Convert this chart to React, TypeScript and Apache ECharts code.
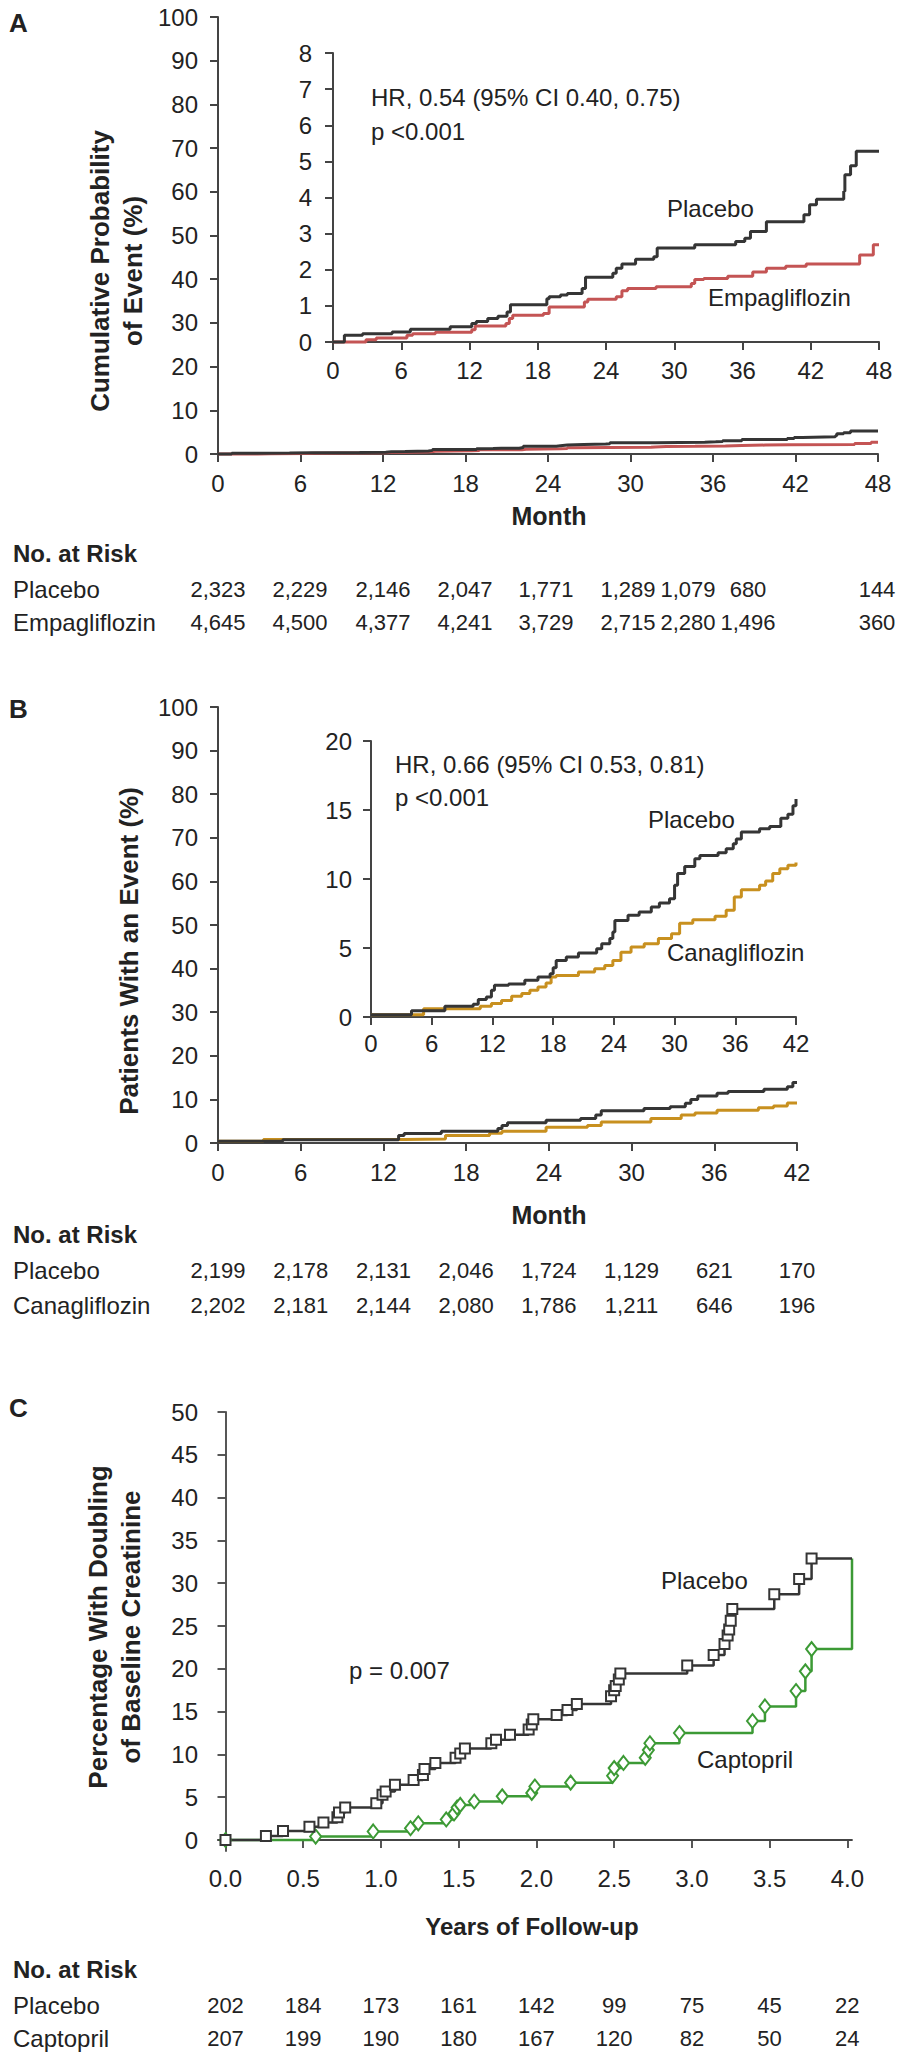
import React, { useEffect, useRef } from "react";
import * as echarts from "echarts";

// ---------------- DATA ----------------
const monthTicksB = [0, 6, 12, 18, 24, 30, 36, 42];
const yearTicksC = [0, 0.5, 1, 1.5, 2, 2.5, 3, 3.5, 4];
const pctTicksC = [0, 5, 10, 15, 20, 25, 30, 35, 40, 45, 50];

// Panel A (EMPA-REG) – cumulative probability (%), [month, pct]
const placeboA: [number, number][] = [
  [0, 0], [1.0, 0.19], [2.6, 0.23], [5.2, 0.28], [6.8, 0.35], [10.3, 0.42], [12.2, 0.51], [12.6, 0.57],
  [13.6, 0.65], [14.5, 0.71], [15.3, 0.83], [15.6, 1.03], [18.8, 1.2], [19.0, 1.25], [20.0, 1.3],
  [20.6, 1.34], [21.9, 1.48], [22.2, 1.79], [24.6, 1.9], [24.9, 2.04], [25.4, 2.16], [26.6, 2.29],
  [28.2, 2.36], [28.5, 2.6], [31.8, 2.69], [35.4, 2.78], [36.2, 2.87], [36.7, 3.06], [38.1, 3.33],
  [41.4, 3.52], [41.9, 3.8], [42.5, 3.95], [44.9, 4.17], [45.0, 4.63], [45.5, 4.88], [46.0, 5.28], [48, 5.28],
];
const empagliflozinA: [number, number][] = [
  [0, 0], [2.9, 0.06], [3.8, 0.11], [6.5, 0.19], [7.0, 0.23], [9.0, 0.27], [12.2, 0.34], [12.5, 0.44],
  [15.2, 0.51], [15.5, 0.65], [15.8, 0.74], [18.5, 0.79], [19.0, 0.97], [22.1, 1.11], [22.4, 1.18],
  [24.9, 1.25], [25.4, 1.42], [25.9, 1.48], [28.4, 1.53], [31.5, 1.62], [31.8, 1.73], [32.6, 1.76],
  [34.7, 1.82], [36.9, 1.94], [38.1, 2.04], [39.8, 2.1], [41.6, 2.16], [46.3, 2.41], [47.5, 2.69], [48, 2.69],
];

// Panel B (CREDENCE) – main plot
const placeboBMain: [number, number][] = [
  [0, 0.4], [4.7, 0.75], [13.1, 1.7], [13.5, 2.2], [16.2, 2.7], [20.3, 3.3], [20.6, 4.0], [21.0, 4.65],
  [23.8, 5.2], [26.3, 5.6], [27.4, 6.4], [27.8, 7.4], [30.9, 7.9], [32.8, 8.3], [33.9, 9.1], [34.3, 10],
  [34.8, 10.8], [36.2, 11.4], [37, 11.8], [39.6, 12.3], [41.3, 12.9], [41.7, 13.9], [42, 13.9],
];
const canagliflozinBMain: [number, number][] = [
  [0, 0.4], [3.3, 0.8], [13.5, 0.9], [16.5, 1.7], [19.7, 2.25], [20.6, 2.7], [23.8, 3.6], [26.8, 4.0],
  [27.8, 4.8], [31.4, 5.6], [33.6, 6.4], [34.6, 6.9], [36.2, 7.5], [39.2, 8.1], [40.3, 8.5], [41.3, 9.2], [42, 9.2],
];
// Panel B – inset
const placeboBInset: [number, number][] = [
  [0, 0.17], [4, 0.45], [7.3, 0.77], [10.1, 0.92], [10.6, 1.26], [11.4, 1.45], [11.9, 1.93], [12.2, 2.3],
  [13.6, 2.4], [15.2, 2.66], [16.5, 2.9], [17.7, 3.14], [18, 3.57], [18.3, 4.1], [19.3, 4.35], [20.5, 4.64],
  [22.3, 4.95], [22.8, 5.31], [23.6, 5.68], [23.9, 6.16], [24.1, 7.0], [25.4, 7.37], [26.5, 7.6], [27.7, 7.97],
  [28.5, 8.26], [29.5, 8.57], [30, 9.54], [30.3, 10.4], [31, 10.9], [32, 11.47], [32.5, 11.7], [34.3, 11.9],
  [35.1, 12.2], [35.8, 12.56], [36.1, 12.9], [36.6, 13.4], [38.4, 13.65], [39.4, 13.8], [40.5, 14.4],
  [41.2, 14.7], [41.7, 15.3], [42, 15.8],
];
const canagliflozinBInset: [number, number][] = [
  [0, 0.17], [5.2, 0.6], [10.8, 0.77], [11.9, 0.97], [12.9, 1.2], [13.9, 1.5], [14.9, 1.7], [15.7, 1.93],
  [16.5, 2.17], [17.3, 2.46], [17.8, 2.9], [18.3, 3.0], [20.5, 3.26], [22.1, 3.5], [23.1, 3.74], [23.9, 4.1],
  [24.7, 4.7], [25.7, 5.07], [27, 5.31], [28.4, 5.68], [29.7, 6.04], [30.5, 6.8], [31.8, 7.05], [34, 7.3],
  [35.1, 7.73], [35.9, 8.7], [36.6, 9.23], [38.4, 9.54], [39, 9.86], [39.7, 10.4], [40.4, 10.75], [41.2, 11.0], [42, 11.2],
];

// Panel C (Captopril trial) – [years, pct]
const placeboC: [number, number][] = [
  [0, 0], [0.26, 0.47], [0.37, 1.05], [0.54, 1.56], [0.63, 2.03], [0.72, 2.66], [0.73, 3.2], [0.77, 3.8],
  [0.97, 4.3], [1.01, 5.3], [1.03, 5.66], [1.09, 6.45], [1.21, 7.0], [1.27, 7.6], [1.28, 8.3], [1.35, 9.0],
  [1.48, 9.6], [1.51, 10.1], [1.54, 10.7], [1.71, 11.3], [1.74, 11.7], [1.83, 12.3], [1.95, 12.9],
  [1.97, 13.5], [1.98, 14.1], [2.13, 14.6], [2.2, 15.2], [2.26, 15.9], [2.48, 16.8], [2.5, 17.5],
  [2.51, 18.0], [2.53, 18.75], [2.54, 19.45], [2.97, 20.4], [3.14, 21.6], [3.21, 22.9], [3.23, 23.9],
  [3.24, 24.6], [3.25, 25.6], [3.26, 27.0], [3.53, 28.7], [3.69, 30.5], [3.77, 32.9], [4.03, 32.9],
];
const captoprilC: [number, number][] = [
  [0, 0], [0.58, 0.4], [0.95, 1.0], [1.19, 1.37], [1.24, 1.95], [1.42, 2.4], [1.47, 3.1], [1.49, 3.8],
  [1.51, 4.1], [1.6, 4.5], [1.78, 5.1], [1.97, 5.5], [1.99, 6.25], [2.22, 6.7], [2.49, 7.5], [2.5, 8.4],
  [2.56, 9.0], [2.7, 9.6], [2.72, 10.5], [2.73, 11.3], [2.92, 12.5], [3.39, 13.9], [3.47, 15.6],
  [3.67, 17.4], [3.73, 19.7], [3.77, 22.3], [4.03, 22.3], [4.03, 32.9],
];

// Numbers at risk
const riskPlaceboA = ["2,323", "2,229", "2,146", "2,047", "1,771", "1,289", "1,079", "680", "144"];
const riskEmpagliflozinA = ["4,645", "4,500", "4,377", "4,241", "3,729", "2,715", "2,280", "1,496", "360"];
const riskPlaceboB = ["2,199", "2,178", "2,131", "2,046", "1,724", "1,129", "621", "170"];
const riskCanagliflozinB = ["2,202", "2,181", "2,144", "2,080", "1,786", "1,211", "646", "196"];
const riskPlaceboC = ["202", "184", "173", "161", "142", "99", "75", "45", "22"];
const riskCaptoprilC = ["207", "199", "190", "180", "167", "120", "82", "50", "24"];

// ---------------- LAYOUT / STYLE ----------------
const FONT = "'Liberation Sans', Arial, Helvetica, sans-serif";
const TXT = "#222";
const AX = "#444";
const C_PLACEBO = "#353535";
const C_EMPA = "#c45454";
const C_CANA = "#c8901f";
const C_CAPTO = "#3c9a35";

const GRIDS = [
  { left: 218, top: 17, width: 660, height: 437 },
  { left: 333, top: 53, width: 546, height: 289 },
  { left: 218, top: 707, width: 579, height: 436 },
  { left: 371, top: 741, width: 425, height: 276 },
  { left: 218, top: 1412, width: 634, height: 439 },
];
const C_XMIN = -0.04824;
const C_XMAX = 4.03;
const C_YMIN = -1.285;
// column x positions of panel A's risk table (as typeset in the source figure)
const riskColsA = [218, 300, 383, 465, 546, 628, 688, 748, 877];

function axisCommon(labelMargin: number, fmt?: (v: number) => string) {
  return {
    axisLine: { show: true, lineStyle: { color: AX, width: 2 } },
    axisTick: { show: true, length: 8, lineStyle: { color: AX, width: 2 } },
    axisLabel: {
      color: TXT, fontSize: 24, fontFamily: FONT, margin: labelMargin,
      ...(fmt ? { formatter: fmt } : {}),
    },
    splitLine: { show: false },
  };
}

function txt(text: string, x: number, y: number, extra: any = {}) {
  return {
    type: "text", x, y, silent: true,
    style: {
      text, fill: TXT, fontSize: 24, fontFamily: FONT,
      textAlign: "left", textVerticalAlign: "middle", ...extra,
    },
  };
}

// turn KM points into an explicit staircase; corner points get no symbol
function staircase(data: [number, number][], markUntil: number) {
  const out: any[] = [];
  data.forEach((d, i) => {
    if (i > 0) out.push({ value: [d[0], data[i - 1][1]], symbol: "none" });
    out.push(i < markUntil ? { value: d } : { value: d, symbol: "none" });
  });
  return out;
}

export default function App() {
  const ref = useRef<HTMLDivElement>(null);
  useEffect(() => {
    if (!ref.current) return;
    const chart = echarts.init(ref.current, undefined, { renderer: "svg" });

    const xOf = (gi: number, v: number, min: number, max: number) =>
      GRIDS[gi].left + ((v - min) / (max - min)) * GRIDS[gi].width;

    const stepLine = (data: [number, number][], xi: number, color: string, width = 3) => ({
      type: "line", xAxisIndex: xi, yAxisIndex: xi, data: staircase(data, 0),
      showSymbol: false, symbol: "none", clip: false,
      lineStyle: { color, width }, itemStyle: { color }, z: 3,
    });
    const markedLine = (data: [number, number][], color: string, symbol: string, size: number | number[], markUntil: number) => ({
      type: "line", xAxisIndex: 4, yAxisIndex: 4, clip: false,
      data: staircase(data, markUntil), symbol, symbolSize: size, showSymbol: true, showAllSymbol: true,
      lineStyle: { color, width: 2.5 }, itemStyle: { color, borderColor: color, borderWidth: 2 }, z: 3,
    });

    const graphics: any[] = [];
    graphics.push(txt("A", 9, 23, { fontWeight: "bold", fontSize: 26 }));
    graphics.push(txt("B", 9, 709, { fontWeight: "bold", fontSize: 26 }));
    graphics.push(txt("C", 9, 1408, { fontWeight: "bold", fontSize: 26 }));
    graphics.push({
      type: "text", x: 116, y: 271, rotation: Math.PI / 2, silent: true,
      style: { text: "Cumulative Probability\nof Event (%)", fill: TXT, fontSize: 26, fontWeight: "bold", fontFamily: FONT, textAlign: "center", textVerticalAlign: "middle", lineHeight: 33 },
    });
    graphics.push({
      type: "text", x: 129, y: 951, rotation: Math.PI / 2, silent: true,
      style: { text: "Patients With an Event (%)", fill: TXT, fontSize: 26, fontWeight: "bold", fontFamily: FONT, textAlign: "center", textVerticalAlign: "middle" },
    });
    graphics.push({
      type: "text", x: 114, y: 1627, rotation: Math.PI / 2, silent: true,
      style: { text: "Percentage With Doubling\nof Baseline Creatinine", fill: TXT, fontSize: 26, fontWeight: "bold", fontFamily: FONT, textAlign: "center", textVerticalAlign: "middle", lineHeight: 33 },
    });
    graphics.push(txt("Month", 549, 516, { fontWeight: "bold", fontSize: 25, textAlign: "center" }));
    graphics.push(txt("Month", 549, 1215, { fontWeight: "bold", fontSize: 25, textAlign: "center" }));
    graphics.push(txt("Years of Follow-up", 532, 1926, { fontWeight: "bold", fontSize: 24, textAlign: "center" }));
    graphics.push(txt("HR, 0.54 (95% CI 0.40, 0.75)", 371, 97));
    graphics.push(txt("p <0.001", 371, 131));
    graphics.push(txt("Placebo", 667, 208));
    graphics.push(txt("Empagliflozin", 708, 297));
    graphics.push(txt("HR, 0.66 (95% CI 0.53, 0.81)", 395, 764));
    graphics.push(txt("p <0.001", 395, 797));
    graphics.push(txt("Placebo", 648, 819));
    graphics.push(txt("Canagliflozin", 667, 952));
    graphics.push(txt("p = 0.007", 349, 1670));
    graphics.push(txt("Placebo", 661, 1580));
    graphics.push(txt("Captopril", 697, 1759));

    const RF = 22;
    graphics.push(txt("No. at Risk", 13, 553, { fontWeight: "bold" }));
    graphics.push(txt("Placebo", 13, 589));
    graphics.push(txt("Empagliflozin", 13, 622));
    riskPlaceboA.forEach((s, i) => graphics.push(txt(s, riskColsA[i], 589, { textAlign: "center", fontSize: RF })));
    riskEmpagliflozinA.forEach((s, i) => graphics.push(txt(s, riskColsA[i], 622, { textAlign: "center", fontSize: RF })));

    graphics.push(txt("No. at Risk", 13, 1234, { fontWeight: "bold" }));
    graphics.push(txt("Placebo", 13, 1270));
    graphics.push(txt("Canagliflozin", 13, 1305));
    monthTicksB.forEach((m, i) => {
      const x = xOf(2, m, 0, 42);
      graphics.push(txt(riskPlaceboB[i], x, 1270, { textAlign: "center", fontSize: RF }));
      graphics.push(txt(riskCanagliflozinB[i], x, 1305, { textAlign: "center", fontSize: RF }));
    });

    graphics.push(txt("No. at Risk", 13, 1969, { fontWeight: "bold" }));
    graphics.push(txt("Placebo", 13, 2005));
    graphics.push(txt("Captopril", 13, 2038));
    yearTicksC.forEach((t, i) => {
      const x = xOf(4, t, C_XMIN, C_XMAX);
      graphics.push(txt(riskPlaceboC[i], x, 2005, { textAlign: "center", fontSize: RF }));
      graphics.push(txt(riskCaptoprilC[i], x, 2038, { textAlign: "center", fontSize: RF }));
    });

    const option: any = {
      animation: false,
      backgroundColor: "#ffffff",
      textStyle: { fontFamily: FONT },
      grid: GRIDS.map((g) => ({ ...g, containLabel: false, outerBoundsMode: "none" })),
      xAxis: [
        { gridIndex: 0, type: "value", min: 0, max: 48, interval: 6, ...axisCommon(17) },
        { gridIndex: 1, type: "value", min: 0, max: 48, interval: 6, ...axisCommon(16) },
        { gridIndex: 2, type: "value", min: 0, max: 42, interval: 6, ...axisCommon(17) },
        { gridIndex: 3, type: "value", min: 0, max: 42, interval: 6, ...axisCommon(14) },
        (() => {
          const a: any = { gridIndex: 4, type: "value", min: C_XMIN, max: C_XMAX, ...axisCommon(15, (v: number) => v.toFixed(1)) };
          a.axisLine.lineStyle.width = 1.8;
          a.axisTick.customValues = yearTicksC;
          a.axisTick.lineStyle.width = 1.8;
          a.axisLabel.customValues = yearTicksC;
          return a;
        })(),
      ],
      yAxis: [
        { gridIndex: 0, type: "value", min: 0, max: 100, interval: 10, ...axisCommon(20) },
        { gridIndex: 1, type: "value", min: 0, max: 8, interval: 1, ...axisCommon(21) },
        { gridIndex: 2, type: "value", min: 0, max: 100, interval: 10, ...axisCommon(20) },
        { gridIndex: 3, type: "value", min: 0, max: 20, interval: 5, ...axisCommon(19) },
        (() => {
          const a: any = { gridIndex: 4, type: "value", min: C_YMIN, max: 50, ...axisCommon(20) };
          a.axisLine.lineStyle.width = 1.8;
          a.axisTick.customValues = pctTicksC;
          a.axisTick.lineStyle.width = 1.8;
          a.axisLabel.customValues = pctTicksC;
          return a;
        })(),
      ],
      series: [
        stepLine(empagliflozinA, 0, C_EMPA, 3),
        stepLine(placeboA, 0, C_PLACEBO, 3),
        stepLine(empagliflozinA, 1, C_EMPA, 3),
        stepLine(placeboA, 1, C_PLACEBO, 3),
        stepLine(canagliflozinBMain, 2, C_CANA, 3),
        stepLine(placeboBMain, 2, C_PLACEBO, 3),
        stepLine(canagliflozinBInset, 3, C_CANA, 3),
        stepLine(placeboBInset, 3, C_PLACEBO, 3),
        markedLine(captoprilC, C_CAPTO, "emptyDiamond", [11, 14], captoprilC.length - 2),
        markedLine(placeboC, C_PLACEBO, "emptyRect", 10, placeboC.length - 1),
      ],
      graphic: graphics,
    };
    chart.setOption(option);
    return () => chart.dispose();
  }, []);

  return (
    <div
      ref={ref}
      style={{ position: "absolute", left: 0, top: 0, width: 900, height: 2056, background: "#fff" }}
    />
  );
}
